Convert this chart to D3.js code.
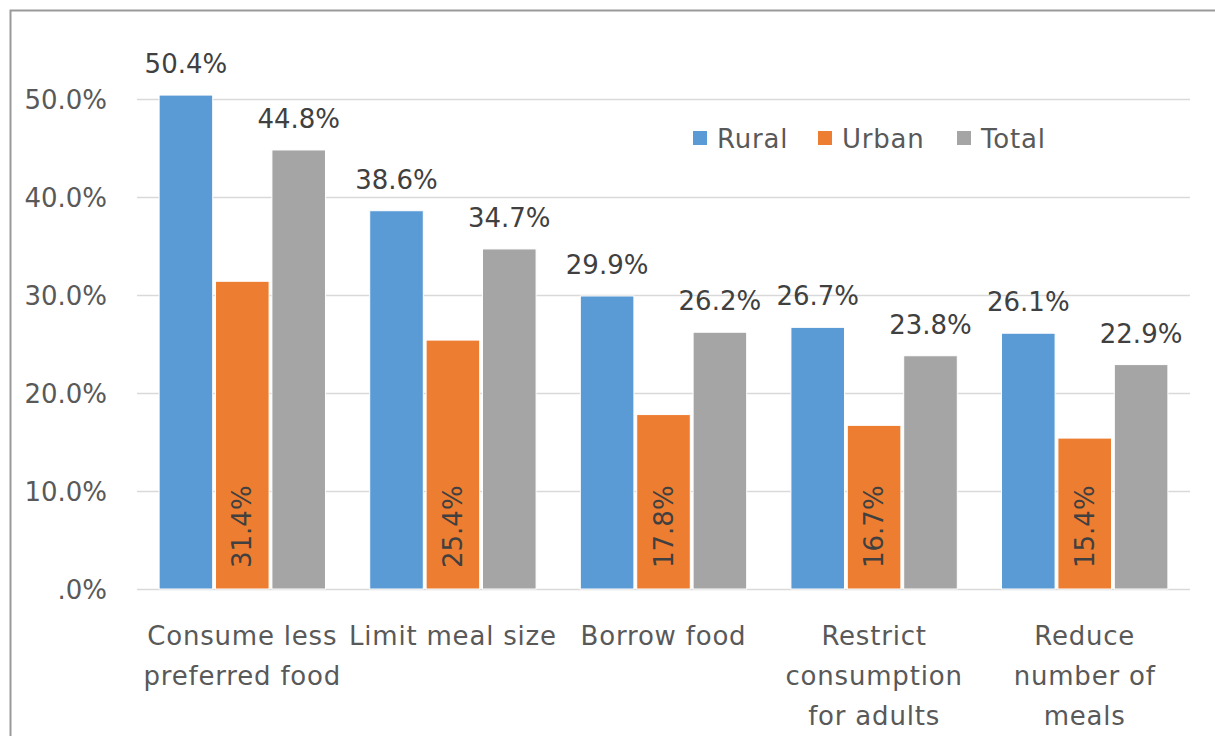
<!DOCTYPE html>
<html>
<head>
<meta charset="utf-8">
<script src="https://cdn.jsdelivr.net/npm/d3@7"></script>
<style>
  html, body { margin: 0; padding: 0; background: #fff; }
  svg { display: block; }
  text { font-family: "DejaVu Sans", sans-serif; }
</style>
</head>
<body>
<svg id="chart" width="1215" height="736"></svg>
<script>
// Coping strategies by area (% of households)
const categories = [
  ["Consume less", "preferred food"],
  ["Limit meal size"],
  ["Borrow food"],
  ["Restrict", "consumption", "for adults"],
  ["Reduce", "number of", "meals"]
];
const seriesNames = ["Rural", "Urban", "Total"];
const rural = [50.4, 38.6, 29.9, 26.7, 26.1];
const urban = [31.4, 25.4, 17.8, 16.7, 15.4];
const total = [44.8, 34.7, 26.2, 23.8, 22.9];
const yTicks = [0, 10, 20, 30, 40, 50];
const colors = ["#5B9BD5", "#ED7D31", "#A5A5A5"];

const seriesValues = [rural, urban, total];
const catKeys = categories.map(c => c.join(" "));

const svg = d3.select("#chart");

// chart frame
svg.append("rect")
  .attr("x", 10.5).attr("y", 10.5)
  .attr("width", 1230).attr("height", 760)
  .attr("fill", "#fff")
  .attr("stroke", "#9a9a9a").attr("stroke-width", 2);

const plot = { left: 137, right: 1190, top: 99, bottom: 589 };

const y = d3.scaleLinear().domain([0, 50]).range([plot.bottom, plot.top]);
const x0 = d3.scaleBand().domain(catKeys)
  .range([plot.left, plot.right]).paddingInner(0.21).paddingOuter(0.105);
const x1 = d3.scaleBand().domain(seriesNames)
  .range([0, x0.bandwidth()]).paddingInner(0.05);

// gridlines and value axis
const yAxis = d3.axisLeft(y).tickValues(yTicks)
  .tickSize(-(plot.right - plot.left))
  .tickPadding(30)
  .tickFormat(d => d === 0 ? ".0%" : d.toFixed(1) + "%");

const gy = svg.append("g")
  .attr("transform", `translate(${plot.left},0)`)
  .call(yAxis);
gy.select(".domain").remove();
gy.selectAll(".tick line").attr("stroke", "#d9d9d9").attr("stroke-width", 1.5);
gy.selectAll(".tick text")
  .attr("fill", "#595959")
  .style("font-size", "26px")
  .attr("dy", "0.36em");

// bars
const rows = categories.map((c, i) => ({
  key: catKeys[i],
  vals: seriesNames.map((s, j) => ({ series: s, idx: j, value: seriesValues[j][i] }))
}));

const groups = svg.append("g").selectAll("g")
  .data(rows).join("g")
  .attr("transform", d => `translate(${x0(d.key)},0)`);

groups.selectAll("rect")
  .data(d => d.vals).join("rect")
  .attr("x", d => x1(d.series))
  .attr("width", x1.bandwidth())
  .attr("y", d => y(d.value))
  .attr("height", d => y(0) - y(d.value))
  .attr("fill", d => colors[d.idx])
  .attr("stroke", "#fff").attr("stroke-width", 1);

// value labels: above for Rural and Total, rotated inside for Urban
groups.selectAll("text.val")
  .data(d => d.vals.filter(v => v.series !== "Urban")).join("text")
  .attr("class", "val")
  .attr("x", d => x1(d.series) + x1.bandwidth() / 2)
  .attr("y", d => y(d.value) - 22)
  .attr("text-anchor", "middle")
  .attr("fill", "#404040")
  .style("font-size", "26px")
  .text(d => d.value.toFixed(1) + "%");

groups.selectAll("text.valin")
  .data(d => d.vals.filter(v => v.series === "Urban")).join("text")
  .attr("class", "valin")
  .attr("transform", d => `translate(${x1(d.series) + x1.bandwidth() / 2 + 9},${y(0) - 21}) rotate(-90)`)
  .attr("text-anchor", "start")
  .attr("fill", "#404040")
  .style("font-size", "26px")
  .text(d => d.value.toFixed(1) + "%");

// category labels
const catG = svg.append("g");
categories.forEach((lines, i) => {
  const cx = x0(catKeys[i]) + x0.bandwidth() / 2;
  const t = catG.append("text")
    .attr("x", cx)
    .attr("y", 645)
    .attr("text-anchor", "middle")
    .attr("fill", "#595959")
    .style("font-size", "26px")
    .style("letter-spacing", "0.8px");
  lines.forEach((ln, k) => {
    t.append("tspan")
      .attr("x", cx)
      .attr("dy", k === 0 ? 0 : 40)
      .text(ln);
  });
});

// legend
const legendX = [693, 818, 957];
const lg = svg.append("g");
seriesNames.forEach((s, i) => {
  lg.append("rect")
    .attr("x", legendX[i]).attr("y", 131)
    .attr("width", 14).attr("height", 14)
    .attr("fill", colors[i]);
  lg.append("text")
    .attr("x", legendX[i] + 24).attr("y", 148)
    .attr("fill", "#595959")
    .style("font-size", "26px")
    .style("letter-spacing", "0.8px")
    .text(s);
});
</script>
</body>
</html>
